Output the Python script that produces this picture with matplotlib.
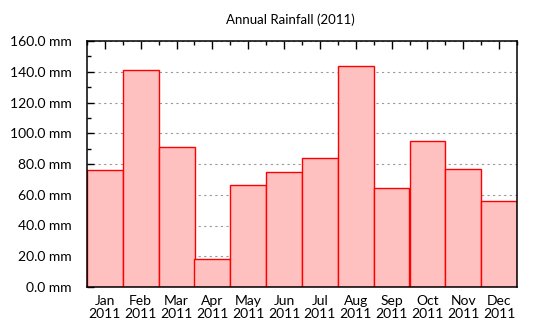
import matplotlib
matplotlib.use('Agg')
import matplotlib.pyplot as plt
from matplotlib.ticker import MultipleLocator, FuncFormatter, FixedLocator
import numpy as np

plt.rcParams['font.family'] = ['Lato', 'DejaVu Sans']

months = ['Jan', 'Feb', 'Mar', 'Apr', 'May', 'Jun',
          'Jul', 'Aug', 'Sep', 'Oct', 'Nov', 'Dec']
year = '2011'
rainfall = [76.1, 141.1, 90.9, 18.2, 66.3, 75.0,
            83.9, 143.7, 64.4, 95.0, 76.7, 55.9]

fig = plt.figure(figsize=(5.4, 3.3), dpi=100)
ax = fig.add_axes([87 / 540, 1 - 287 / 330, 430 / 540, 246 / 330])

x = np.arange(len(months))
ax.bar(x, rainfall, width=1.0, color='#ffc0c0', edgecolor='#ff0000',
       linewidth=1.0, zorder=2)

ax.set_xlim(-0.5, len(months) - 0.5)
ax.set_ylim(0, 160)

# dotted grid behind the bars
ax.yaxis.set_major_locator(MultipleLocator(20))
ax.yaxis.set_minor_locator(MultipleLocator(10))
ax.grid(axis='y', which='major', linestyle=(0, (2, 3)), color='#999999',
        linewidth=0.8, zorder=0)
ax.set_axisbelow(True)
ax.yaxis.set_major_formatter(FuncFormatter(lambda v, p: '%.1f mm' % v))

ax.set_xticks(x)
ax.set_xticklabels(['%s\n%s' % (m, year) for m in months])
ax.xaxis.set_minor_locator(FixedLocator(np.arange(-0.5, len(months), 1.0)))

ax.tick_params(axis='x', which='both', bottom=False, top=True, direction='in',
               labelsize=10, pad=6, colors='black')
ax.tick_params(axis='x', which='major', length=6, width=1)
ax.tick_params(axis='x', which='minor', length=3, width=1)
ax.tick_params(axis='y', which='both', left=True, right=False, direction='in',
               labelsize=10, pad=11)
ax.tick_params(axis='y', which='major', length=5, width=1)
ax.tick_params(axis='y', which='minor', length=3, width=1)
for lbl in ax.get_xticklabels():
    lbl.set_linespacing(1.05)

for s in ax.spines.values():
    s.set_linewidth(1.1)
    s.set_color('black')

fig.text(290 / 540, 1 - 20 / 330, 'Annual Rainfall (2011)', ha='center',
         va='center', fontsize=9.5)

fig.savefig('out.png', dpi=100)
